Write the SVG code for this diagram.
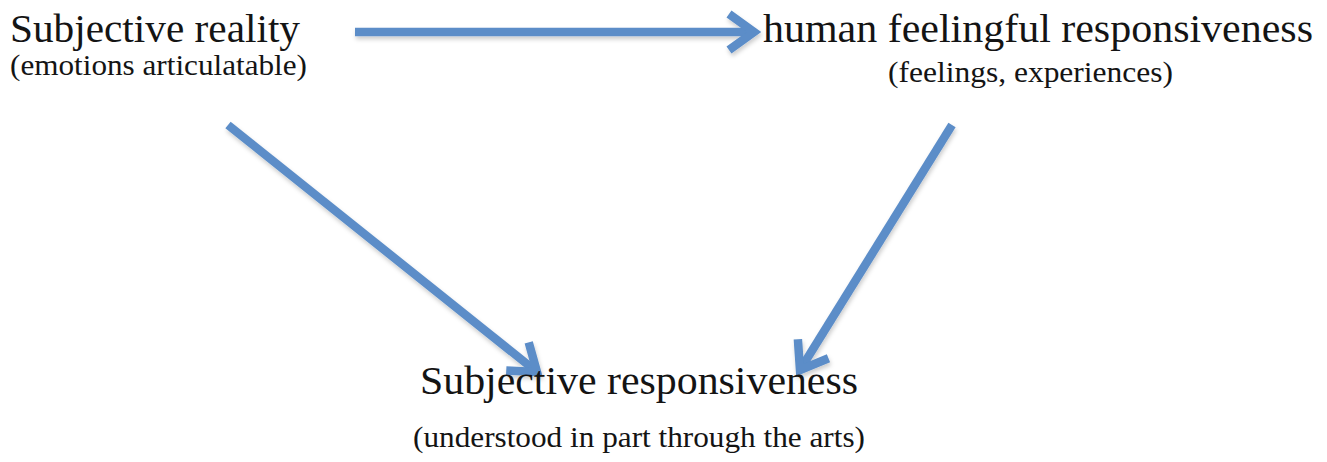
<svg xmlns="http://www.w3.org/2000/svg" width="1327" height="462" viewBox="0 0 1327 462">
<style>
.t{font-family:"Liberation Serif","Times New Roman",serif;fill:#141414}
.big{font-size:41px}
.sm{font-size:30px}
.arr{stroke:#5b8dc8;stroke-width:8.5;fill:none}
</style>
<defs>
<filter id="sh" x="-10%" y="-10%" width="120%" height="130%">
<feDropShadow dx="1" dy="3" stdDeviation="2" flood-color="#000" flood-opacity="0.2"/>
</filter>
<marker id="head" markerUnits="userSpaceOnUse" orient="auto" refX="0" refY="0" markerWidth="60" markerHeight="60" viewBox="-40 -30 60 60" overflow="visible">
<path d="M-25,-18 L0,0 L-25,18" stroke="#5b8dc8" stroke-width="8.5" fill="none" stroke-linejoin="miter"/>
</marker>
</defs>
<rect width="1327" height="462" fill="#fff"/>
<g id="connectors" filter="url(#sh)">
<line class="arr" x1="355" y1="32" x2="754" y2="32" marker-end="url(#head)"/>
<line class="arr" x1="228" y1="125" x2="537" y2="372" marker-end="url(#head)"/>
<line class="arr" x1="952" y1="125" x2="800" y2="370" marker-end="url(#head)"/>
</g>
<g id="subjective-reality">
<text class="t big" x="10" y="42" textLength="290" lengthAdjust="spacingAndGlyphs">Subjective reality</text>
<text class="t sm" x="10" y="75" textLength="297" lengthAdjust="spacingAndGlyphs">(emotions articulatable)</text>
</g>
<g id="human-feelingful-responsiveness">
<text class="t big" x="763" y="42" textLength="550" lengthAdjust="spacingAndGlyphs">human feelingful responsiveness</text>
<text class="t sm" x="888" y="82" textLength="285" lengthAdjust="spacingAndGlyphs">(feelings, experiences)</text>
</g>
<g id="subjective-responsiveness">
<text class="t big" x="420" y="394" textLength="438" lengthAdjust="spacingAndGlyphs">Subjective responsiveness</text>
<text class="t sm" x="413" y="447" textLength="452" lengthAdjust="spacingAndGlyphs">(understood in part through the arts)</text>
</g>
</svg>
